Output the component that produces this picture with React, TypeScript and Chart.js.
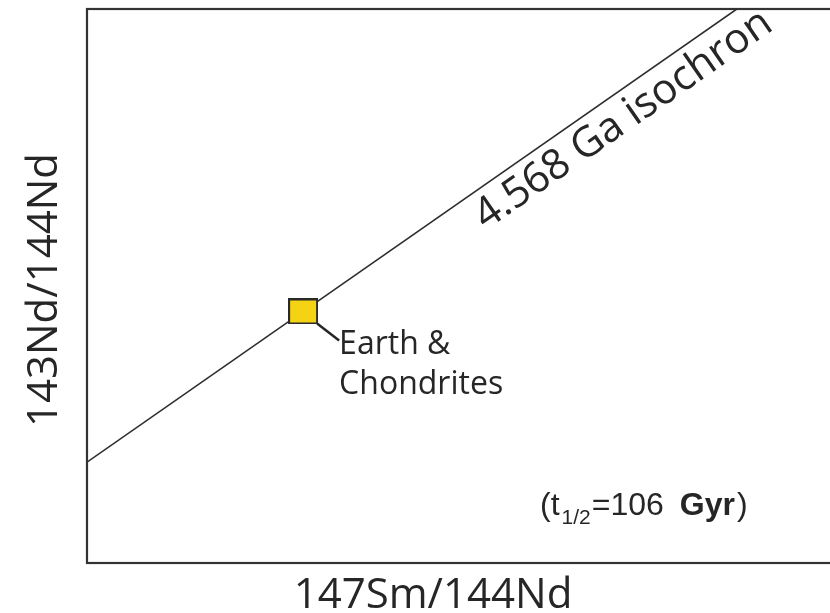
import { useEffect, useRef } from "react";
import { Chart, registerables } from "chart.js";

Chart.register(...registerables);

// Isochron endpoints (normalised 147Sm/144Nd vs 143Nd/144Nd space)
const isochronX = [0, 0.863];
const isochronY = [0.182, 1.0];

// Bulk Earth / chondritic reference point
const earthX = [0.287];
const earthY = [0.454];

const isochronLabel = "4.568 Ga isochron";
const earthLabel = ["Earth &", "Chondrites"];
const xTitle = "147Sm/144Nd";
const yTitle = "143Nd/144Nd";
// half-life note, split into: prefix, subscript, value, bold unit, suffix
const halfLifeParts = ["(t", "1/2", "=106", "Gyr", ")"];

const INK = "#262626";
const SANS = "'Open Sans', 'Noto Sans', sans-serif";
const ARIAL = "'Liberation Sans', Arial, sans-serif";

function makeMarker(): HTMLCanvasElement {
  const c = document.createElement("canvas");
  c.width = 30;
  c.height = 26;
  const g = c.getContext("2d")!;
  g.fillStyle = "#f3d314";
  g.fillRect(1, 1, 28, 24);
  g.strokeStyle = "#2a2a2a";
  g.lineWidth = 2;
  g.strokeRect(1, 1, 28, 24);
  return c;
}

const framePlugin = {
  id: "frameAndLabels",
  beforeDatasetsDraw(chart: any) {
    const { ctx, chartArea } = chart;
    ctx.save();
    ctx.strokeStyle = "#333333";
    ctx.lineWidth = 2.2;
    ctx.strokeRect(chartArea.left, chartArea.top, chartArea.right - chartArea.left, chartArea.bottom - chartArea.top);
    ctx.restore();
  },
  afterDraw(chart: any) {
    const { ctx, scales } = chart;
    const xs = scales.x;
    const ys = scales.y;
    ctx.save();
    ctx.fillStyle = INK;

    // isochron label, running parallel to the line, just beneath it
    const p0x = xs.getPixelForValue(isochronX[0]);
    const p0y = ys.getPixelForValue(isochronY[0]);
    const p1x = xs.getPixelForValue(isochronX[1]);
    const p1y = ys.getPixelForValue(isochronY[1]);
    const ang = Math.atan2(p1y - p0y, p1x - p0x);
    const t = 0.58;
    const bx = p0x + (p1x - p0x) * t;
    const by = p0y + (p1y - p0y) * t;
    const off = 38;
    ctx.save();
    ctx.translate(bx - Math.sin(ang) * off, by + Math.cos(ang) * off);
    ctx.rotate(ang);
    ctx.font = `42px ${SANS}`;
    ctx.textAlign = "left";
    ctx.textBaseline = "alphabetic";
    ctx.fillText(isochronLabel, 0, 0);
    ctx.restore();

    // leader from marker to the Earth label
    const ex = xs.getPixelForValue(earthX[0]);
    const ey = ys.getPixelForValue(earthY[0]);
    ctx.strokeStyle = INK;
    ctx.lineWidth = 2.5;
    ctx.beginPath();
    ctx.moveTo(ex + 14, ey + 12);
    ctx.lineTo(ex + 36, ey + 29);
    ctx.stroke();
    ctx.font = `32px ${SANS}`;
    ctx.textAlign = "left";
    ctx.fillText(earthLabel[0], ex + 36, ey + 43);
    ctx.fillText(earthLabel[1], ex + 36, ey + 83);

    // half-life note
    let hx = 540;
    const hy = 515;
    const pieces: [string, string, number, number][] = [
      [halfLifeParts[0], `32px ${ARIAL}`, 0, 2],
      [halfLifeParts[1], `21px ${ARIAL}`, 9, 1],
      [halfLifeParts[2], `32px ${ARIAL}`, 0, 16],
      [halfLifeParts[3], `bold 32px ${ARIAL}`, 0, 2],
      [halfLifeParts[4], `32px ${ARIAL}`, 0, 0],
    ];
    for (const [txt, font, dy, gap] of pieces) {
      ctx.font = font;
      ctx.fillText(txt, hx, hy + dy);
      hx += ctx.measureText(txt).width + gap;
    }

    // axis titles
    ctx.font = `42px ${SANS}`;
    ctx.textAlign = "center";
    ctx.fillText(xTitle, 433, 608);
    ctx.save();
    ctx.translate(57, 290);
    ctx.rotate(-Math.PI / 2);
    ctx.fillText(yTitle, 0, 0);
    ctx.restore();

    ctx.restore();
  },
};

export default function App() {
  const ref = useRef<HTMLCanvasElement | null>(null);

  useEffect(() => {
    if (!ref.current) return;
    const marker = makeMarker();
    const chart = new Chart(ref.current, {
      type: "scatter",
      data: {
        datasets: [
          {
            data: earthX.map((x, i) => ({ x, y: earthY[i] })),
            pointStyle: marker as any,
            pointRadius: 14,
          },
          {
            type: "line",
            data: isochronX.map((x, i) => ({ x, y: isochronY[i] })),
            borderColor: "#2e2e2e",
            borderWidth: 1.6,
            pointRadius: 0,
            fill: false,
          } as any,
        ],
      },
      options: {
        responsive: false,
        animation: false,
        devicePixelRatio: 1,
        events: [],
        layout: { autoPadding: false, padding: { left: 87, top: 9, right: 5, bottom: 50 } },
        scales: {
          x: { type: "linear", min: 0, max: 1, display: false },
          y: { type: "linear", min: 0, max: 1, display: false },
        },
        plugins: { legend: { display: false }, tooltip: { enabled: false } },
      },
      plugins: [framePlugin],
    });
    return () => chart.destroy();
  }, []);

  return (
    <div style={{ position: "fixed", left: 0, top: 0, width: 830, height: 613, overflow: "hidden", background: "#fff" }}>
      <canvas ref={ref} width={845} height={613} style={{ display: "block" }} />
    </div>
  );
}
